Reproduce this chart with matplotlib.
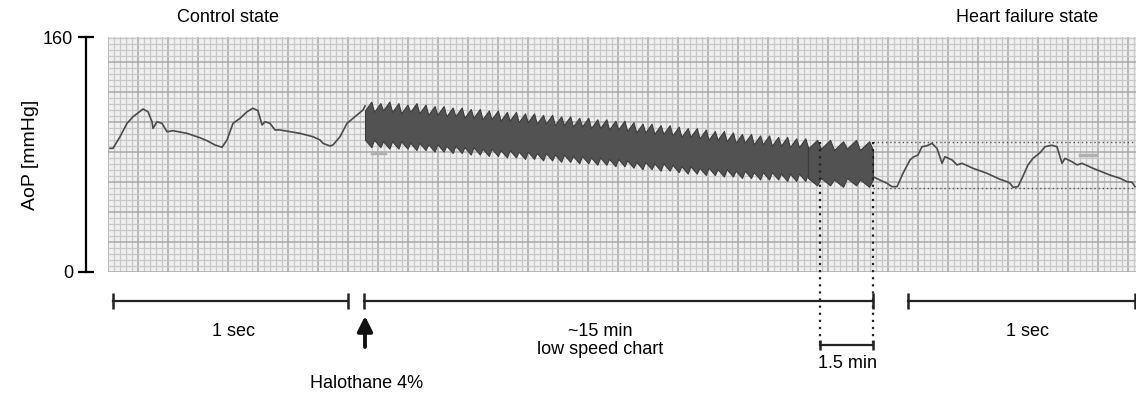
import numpy as np
import matplotlib
matplotlib.use('Agg')
import matplotlib.pyplot as plt

plt.rcParams['font.family'] = ['Liberation Sans', 'DejaVu Sans']

# control state trace (chart position, mmHg)
ctrl_x = [110, 113, 120, 127, 133, 138, 143, 148, 152, 153, 157, 162, 167, 173, 187,
          200, 207, 215, 222, 227, 233, 240, 247, 253, 258, 262, 265, 270, 275, 280,
          300, 313, 320, 323, 330, 333, 340, 347, 357, 363, 365]
ctrl_p = [84.2, 84.2, 92.1, 101.2, 105.7, 108.3, 111.0, 109.1, 102.3, 97.8, 102.3, 101.2,
          95.5, 96.2, 94.4, 91.4, 89.4, 86.5, 84.9, 89.9, 101.2, 104.6, 109.1, 111.5,
          109.8, 100.1, 102.3, 101.2, 96.7, 96.7, 94.4, 92.1, 89.9, 87.6, 85.8, 86.5,
          92.1, 101.2, 106.9, 110.3, 113.0]

# halothane period, low speed chart: per-beat systolic / diastolic (mmHg)
fast_sys = [116, 115, 116, 115, 114, 115, 114, 113, 113, 112, 112, 111, 111, 110, 110,
            109, 109, 108, 108, 107, 107, 106, 106, 105, 105, 104, 104, 103, 103, 102,
            101, 101, 100, 100, 99, 98, 98, 97, 96, 96, 95, 94, 94, 93, 93, 92, 92, 91, 91]
fast_dia = [85, 85, 84, 84, 84, 83, 83, 82, 82, 81, 81, 80, 80, 79, 79, 78, 78, 77, 77,
            76, 76, 75, 75, 74, 74, 73, 73, 72, 72, 71, 70, 70, 69, 69, 68, 67, 67, 66,
            66, 65, 65, 64, 64, 63, 63, 63, 62, 62, 62]
slow_sys = [90, 90, 89, 90, 89]
slow_dia = [59, 59, 58, 59, 58]

# heart failure state trace
hf_x = [873, 880, 887, 892, 897, 903, 910, 913, 918, 922, 927, 932, 937, 942, 945, 952,
        957, 962, 973, 987, 1000, 1007, 1010, 1013, 1018, 1022, 1028, 1033, 1040, 1045,
        1052, 1057, 1062, 1065, 1072, 1077, 1082, 1093, 1110, 1120, 1127, 1132, 1135]
hf_p = [64.9, 62.6, 60.4, 58.1, 58.1, 67.2, 76.3, 78.1, 79.7, 85.3, 86.0, 87.6, 84.2,
        74.0, 78.5, 76.3, 72.9, 74.0, 70.6, 67.2, 63.1, 61.5, 60.4, 57.7, 58.1, 63.8,
        72.9, 77.4, 81.2, 85.3, 86.3, 85.3, 74.0, 77.4, 75.1, 72.9, 74.0, 70.6, 66.0,
        63.8, 61.5, 61.1, 58.1]
hf_levels = [88.3, 57.0]

fast_span = (365, 808)
slow_span = (808, 873)


def band(span, sys, dia):
    xs = np.linspace(span[0], span[1], len(sys) + 1)
    p = xs[1] - xs[0]
    tx, ty, by = [], [], []
    for i in range(len(sys)):
        tx += [xs[i], xs[i] + 0.7 * p]
        ty += [sys[i] - 6, sys[i]]
        by += [dia[i] + 5, dia[i]]
    tx.append(xs[-1])
    ty.append(sys[-1] - 6)
    by.append(dia[-1] + 5)
    return tx, ty, by


fig = plt.figure(figsize=(11.36, 3.98), dpi=100)
ax = fig.add_axes([108 / 1136, 126 / 398, 1028 / 1136, 235 / 398])
ax.set_xlim(108, 1136)
ax.set_ylim(0, 160)
ax.set_facecolor('#f0f0f0')

# chart paper grid
for k, gx in enumerate(np.arange(108, 1137, 6)):
    ax.axvline(gx, color='#a8a8a8' if k % 5 == 0 else '#c8c8c8',
               lw=1.1 if k % 5 == 0 else 0.9, zorder=0)
for k, gy in enumerate(np.arange(0, 161, 6 * 160 / 235)):
    ax.axhline(gy, color='#a8a8a8' if k % 5 == 0 else '#c8c8c8',
               lw=1.1 if k % 5 == 0 else 0.9, zorder=0)

ax.plot(ctrl_x, ctrl_p, color='#4a4a4a', lw=1.2, zorder=3)
ax.plot(hf_x, hf_p, color='#4a4a4a', lw=1.2, zorder=3)
for span, s, d in [(fast_span, fast_sys, fast_dia), (slow_span, slow_sys, slow_dia)]:
    tx, ty, by = band(span, s, d)
    ax.fill_between(tx, by, ty, color='#525252', lw=0.8, edgecolor='#3c3c3c', zorder=3)
for lv in hf_levels:
    ax.plot([slow_span[1], 1136], [lv, lv], color='#555555', lw=1.0,
            ls=(0, (1, 2)), zorder=3)
# grey pen marks on the paper
ax.plot([372, 385], [81, 81], color='#b0b0b0', lw=2.5, zorder=2)
ax.plot([1080, 1095], [80, 80], color='#b0b0b0', lw=2.5, zorder=2)

for s in ['top', 'right', 'bottom']:
    ax.spines[s].set_visible(False)
ax.spines['left'].set_position(('outward', 16))
ax.spines['left'].set_bounds(0, 160)
ax.spines['left'].set_linewidth(1.6)
ax.set_xticks([])
ax.set_yticks([0, 160])
ax.tick_params(axis='y', direction='inout', length=12, width=1.6, labelsize=13, pad=3)
ax.set_ylabel('AoP [mmHg]', fontsize=14, labelpad=3)

# annotations in figure pixel space
ov = fig.add_axes([0, 0, 1, 1], zorder=5)
ov.set_xlim(0, 1136)
ov.set_ylim(398, 0)
ov.axis('off')

ov.text(228, 18, 'Control state', fontsize=13, ha='center', va='center')
ov.text(1027, 18, 'Heart failure state', fontsize=13, ha='center', va='center')

for x0, x1 in [(113, 348), (364, 873), (908, 1135)]:
    ov.plot([x0, x1], [301, 301], color='#222222', lw=1.6, marker='|', ms=11, mew=1.8)
ov.text(233, 332, '1 sec', fontsize=13, ha='center', va='center')
ov.text(600, 332, '~15 min', fontsize=13, ha='center', va='center')
ov.text(600, 350, 'low speed chart', fontsize=13, ha='center', va='center')
ov.text(1027, 332, '1 sec', fontsize=13, ha='center', va='center')

ov.annotate('', xy=(365, 316), xytext=(365, 347),
            arrowprops=dict(arrowstyle='-|>,head_length=0.9,head_width=0.45',
                            color='#111111', lw=2.8, shrinkA=0, shrinkB=0))
ov.text(367, 384, 'Halothane 4%', fontsize=13, ha='center', va='center')

for vx in [820, 873]:
    ov.plot([vx, vx], [142, 345], color='#222222', lw=1.6, ls=(0, (1, 2.2)))
ov.plot([820, 873], [345, 345], color='#222222', lw=1.6, marker='|', ms=7, mew=1.8)
ov.text(847, 364, '1.5 min', fontsize=13, ha='center', va='center')

fig.savefig('out.png', dpi=100)
